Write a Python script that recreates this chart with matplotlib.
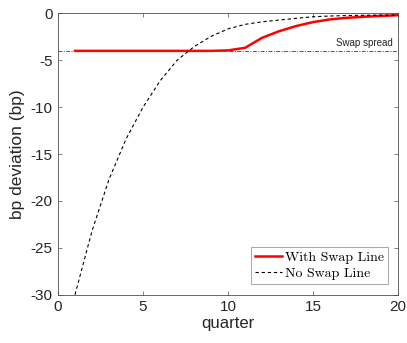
import matplotlib.pyplot as plt
import numpy as np

# quarters after the shock
quarters = np.arange(1, 21)

# bp deviation with the swap line in place (floored at the swap spread)
with_swap = [-4.0, -4.0, -4.0, -4.0, -4.0, -4.0, -4.0, -4.0, -4.0, -3.95,
             -3.67, -2.6, -1.9, -1.35, -0.93, -0.64, -0.47, -0.36, -0.27, -0.2]

# bp deviation without the swap line
no_swap = [-30.0, -23.2, -17.7, -13.4, -10.0, -7.2, -5.0, -3.55, -2.45, -1.65,
           -1.17, -0.9, -0.71, -0.53, -0.36, -0.28, -0.23, -0.2, -0.18, -0.17]

swap_spread = -4.0

plt.rcParams['font.family'] = ['Liberation Sans', 'DejaVu Sans']

fig = plt.figure(figsize=(4.07, 3.43), dpi=100)
ax = fig.add_axes([0.1425, 0.141, 0.836, 0.82])

ax.plot(quarters, with_swap, color='red', lw=1.8, label='With Swap Line')
ax.plot(quarters, no_swap, color='black', lw=0.8, dashes=(3, 2.5), label='No Swap Line')

ax.axhline(swap_spread, color='#555555', lw=0.7, linestyle=(0, (4, 1.5, 1, 1.5)), zorder=3)
ax.text(19.7, swap_spread + 0.35, 'Swap spread', fontsize=7, color='#222222',
        ha='right', va='bottom')

ax.set_xlim(0, 20)
ax.set_ylim(-30, 0)
ax.set_xticks([0, 5, 10, 15, 20])
ax.set_yticks([-30, -25, -20, -15, -10, -5, 0])
ax.set_yticklabels(['-30', '-25', '-20', '-15', '-10', '-5', '0'])

for s in ax.spines.values():
    s.set_color('#4d4d4d')
    s.set_linewidth(0.6)
ax.tick_params(direction='in', top=True, right=True, length=3, width=0.5,
               colors='#4d4d4d', labelsize=11, labelcolor='#262626', pad=4)

ax.set_xlabel('quarter', fontsize=12, color='#262626', labelpad=1)
ax.set_ylabel('bp deviation (bp)', fontsize=12.5, color='#262626', labelpad=4)

leg = ax.legend(loc='lower right', frameon=True, fancybox=False,
                borderaxespad=0.75, handlelength=1.9, handletextpad=0.2,
                borderpad=0.3, labelspacing=0.25,
                prop={'family': 'cmr10', 'size': 10})
leg.get_frame().set_edgecolor('#7f7f7f')
leg.get_frame().set_linewidth(0.6)

fig.savefig('out.png', dpi=100)
plt.close(fig)
